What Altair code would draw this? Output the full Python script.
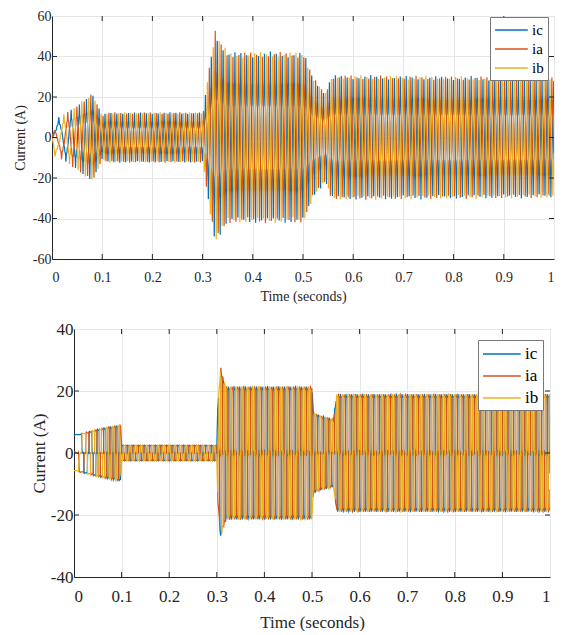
import numpy as np
import pandas as pd
import altair as alt

# ---------------- data ----------------
series_names = ["ic", "ia", "ib"]
series_colors = ["#0072BD", "#D95319", "#EDB120"]
phase_offsets = [0.0, 1.0 / 3.0, 2.0 / 3.0]

# top panel: envelope (peak current, A) at key times (s)
top_env_t = [0, 0.005, 0.02, 0.05, 0.08, 0.09, 0.1, 0.11, 0.3, 0.302, 0.31, 0.325,
             0.335, 0.35, 0.5, 0.505, 0.52, 0.545, 0.552, 0.56, 1.0]
top_env_a = [0, 9, 11, 16, 22, 17, 11, 12.5, 12.5, 14, 30, 53,
             48, 42.5, 42.5, 40, 30, 22, 28, 31, 30]
# top panel: electrical frequency (Hz) at key times
top_freq_t = [0, 0.02, 0.05, 0.08, 0.1, 1.0]
top_freq_f = [10, 35, 65, 80, 85, 85]
# top panel: one half-cycle of the normalised waveform
top_half = [0.0, 0.2, 0.35, 0.38, 0.6, 0.64, 1.0, 0.64, 0.6, 0.38, 0.35, 0.2]

# bottom panel
bot_env_t = [0, 0.005, 0.02, 0.06, 0.095, 0.098, 0.1, 0.3, 0.302, 0.308, 0.312, 0.32,
             0.5, 0.503, 0.52, 0.545, 0.552, 1.0]
bot_env_a = [6, 6, 6.5, 8, 9, 9, 2.5, 2.5, 15, 28, 25, 21.5,
             21.5, 13, 12, 11, 19, 19]
bot_freq_t = [0, 0.02, 0.05, 0.1, 1.0]
bot_freq_f = [5, 40, 70, 85, 85]
bot_half = [0.95, 1.0, 0.97, 0.96, 0.95, 0.95, 0.95, 0.97, 0.08, 0.03, -0.03, 0.05]

x_ticks = [0, 0.1, 0.2, 0.3, 0.4, 0.5, 0.6, 0.7, 0.8, 0.9, 1.0]
top_y_ticks = [-60, -40, -20, 0, 20, 40, 60]
bot_y_ticks = [-40, -20, 0, 20, 40]


def build(env_t, env_a, freq_t, freq_f, half):
    t = np.arange(0, 1.0 + 1e-9, 0.0002)
    f = np.interp(t, freq_t, freq_f)
    cyc = np.concatenate([[0], np.cumsum((f[1:] + f[:-1]) / 2 * np.diff(t))])
    env = np.interp(t, env_t, env_a)
    shape = np.array(list(half) + [-v for v in half])
    n = len(shape)
    knots = np.arange(n + 1) / n
    vals = np.concatenate([shape, shape[:1]])
    frames = []
    for name, off in zip(series_names, phase_offsets):
        fr = np.mod(cyc + off, 1.0)
        y = np.interp(fr, knots, vals) * env
        frames.append(pd.DataFrame({"t": t, "i": y, "s": name}))
    return pd.concat(frames, ignore_index=True)


top_df = build(top_env_t, top_env_a, top_freq_t, top_freq_f, top_half)
bot_df = build(bot_env_t, bot_env_a, bot_freq_t, bot_freq_f, bot_half)

FONT = "Liberation Serif"
INK = "#262626"


def panel(df, yticks, W, H, fs, lab_pad_x, title_pad_x, lab_pad_y, title_pad_y,
          legend_x, legend_y, sym_h, sym_path, lab_off, leg_fs, row_pad):
    ydom = [yticks[0], yticks[-1]]
    xs = alt.Scale(domain=[0, 1], nice=False, zero=False)
    ys = alt.Scale(domain=ydom, nice=False, zero=False)
    lines = alt.Chart(df).mark_line(strokeWidth=1.2, clip=True).encode(
        x=alt.X("t:Q", scale=xs,
                axis=alt.Axis(values=x_ticks, title="Time (seconds)", grid=True,
                              gridColor="#e6e6e6", ticks=False, tickSize=0,
                              labelPadding=lab_pad_x,
                              labelFont=FONT, labelFontSize=fs, labelColor=INK,
                              titleFont=FONT, titleFontSize=fs, titleFontWeight="normal",
                              titleColor=INK, titlePadding=title_pad_x, domainColor=INK,
                              labelExpr="datum.value == 0 ? '0' : datum.value == 1 ? '1' : format(datum.value, '.1f')")),
        y=alt.Y("i:Q", scale=ys,
                axis=alt.Axis(values=yticks, title="Current (A)", grid=True,
                              gridColor="#e6e6e6", ticks=False, tickSize=0,
                              labelPadding=lab_pad_y,
                              labelFont=FONT, labelFontSize=fs, labelColor=INK,
                              titleFont=FONT, titleFontSize=fs, titleFontWeight="normal",
                              titleColor=INK, titlePadding=title_pad_y, domainColor=INK,
                              labelExpr="datum.value < 0 ? '-' + abs(datum.value) : '' + datum.value")),
        color=alt.Color("s:N", sort=series_names,
                        scale=alt.Scale(domain=series_names, range=series_colors),
                        legend=alt.Legend(title=None, orient="none", legendX=legend_x,
                                          legendY=legend_y, symbolType=sym_path,
                                          symbolSize=sym_h * sym_h, symbolStrokeWidth=1.5,
                                          labelFont=FONT, labelFontSize=leg_fs,
                                          labelFontWeight="normal",
                                          labelColor="#000000", fillColor="white",
                                          strokeColor="#777777", padding=4, rowPadding=row_pad,
                                          labelOffset=lab_off)),
        order=alt.Order("t:Q"),
    )
    xt = pd.DataFrame({"v": x_ticks[1:-1]})
    yt = pd.DataFrame({"v": yticks[1:-1]})
    tick_top = alt.Chart(xt).mark_rule(color=INK).encode(
        x=alt.X("v:Q", scale=xs), y=alt.value(0), y2=alt.value(5))
    tick_bot = alt.Chart(xt).mark_rule(color=INK).encode(
        x=alt.X("v:Q", scale=xs), y=alt.value(H - 5), y2=alt.value(H))
    tick_l = alt.Chart(yt).mark_rule(color=INK).encode(
        y=alt.Y("v:Q", scale=ys), x=alt.value(0), x2=alt.value(5))
    tick_r = alt.Chart(yt).mark_rule(color=INK).encode(
        y=alt.Y("v:Q", scale=ys), x=alt.value(W - 5), x2=alt.value(W))
    return alt.layer(lines, tick_top, tick_bot, tick_l, tick_r).properties(width=W, height=H)


def spacer(w):
    return alt.Chart(pd.DataFrame({"a": [0]})).mark_point(opacity=0, size=0).encode(
        x=alt.value(0), y=alt.value(0)
    ).properties(width=w, height=10, view=alt.ViewBackground(stroke="transparent"))


top = panel(top_df, top_y_ticks, 502, 243, 14, 11, 5, 1, 5, 438, 1,
            16, "M-1,0L3.1,0", 20, 15, 2)
bot = panel(bot_df, bot_y_ticks, 476, 248, 17, 11, 10, 1, 2, 404, 11,
            18, "M-1,0L3.2,0", 23, 17, 4)

top_row = alt.hconcat(spacer(2), top, spacing=0).resolve_scale(
    color="independent").resolve_legend(color="independent")
bottom_row = alt.hconcat(spacer(19), bot, spacing=0).resolve_scale(
    color="independent").resolve_legend(color="independent")

chart = alt.concat(top_row, bottom_row, columns=1, spacing=15).resolve_scale(
    color="independent").resolve_legend(color="independent").properties(
    padding={"left": 0, "top": 0, "right": 0, "bottom": 0}
).configure_view(stroke=INK, strokeWidth=1).configure_legend(
    labelFont=FONT).configure(background="white")

chart.save("out.html", embed_options={"renderer": "svg", "actions": False})
